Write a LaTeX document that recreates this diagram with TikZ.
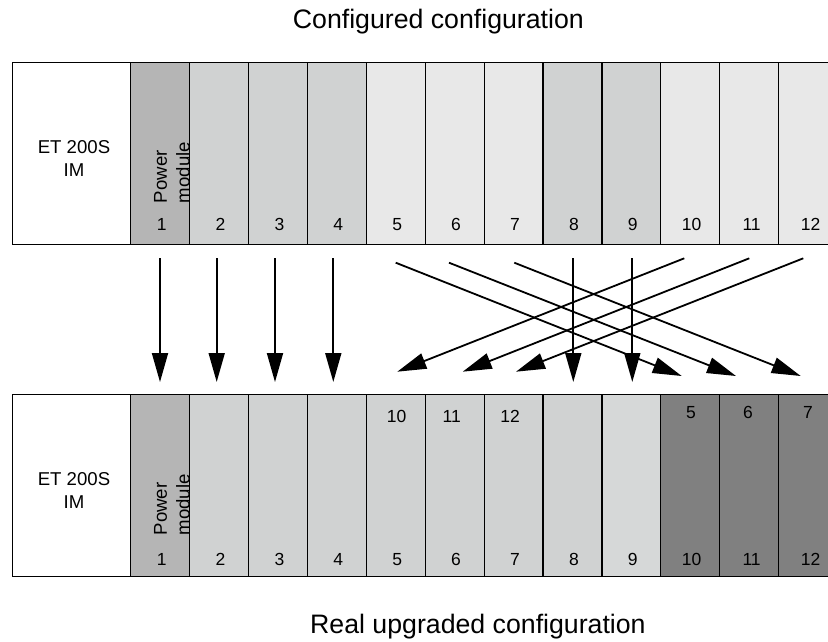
\documentclass[tikz,border=0pt]{standalone}
\usepackage{fontspec}
\setmainfont{Liberation Sans}
\usetikzlibrary{arrows.meta}

\definecolor{pmgray}{HTML}{B5B5B5}
\definecolor{midgray}{HTML}{D0D2D2}
\definecolor{lightgray}{HTML}{E8E8E8}
\definecolor{palegray}{HTML}{D6D8D8}
\definecolor{darkgray}{HTML}{808080}

\begin{document}
\begin{tikzpicture} [x = 1pt, y = -1pt,
  slot/.style = {draw, line width = 1.2pt, minimum width = 58.9pt, minimum height = 182pt, inner sep = 0pt},
  imbox/.style = {slot, fill = white, minimum width = 118pt},
  num/.style = {anchor = base, inner sep = 0pt, font = \fontsize{17.5}{20}\selectfont},
  racktext/.style = {inner sep = 0pt, font = \fontsize{18.6}{22.7}\selectfont},
  title/.style = {anchor = base west, inner sep = 0pt, font = \fontsize{26.7}{32}\selectfont},
  arr/.style = {line width = 1.8pt, -{Triangle[length = 29pt, width = 16pt]}}]
\useasboundingbox (0, 0) rectangle (828, 642);
\clip (0, 0) rectangle (828, 642);
% titles
\node[title] (ttop) at (292.7, 29.0){Configured configuration};
\node[title] (tbot) at (310.0, 633.3){Real upgraded configuration};
% configured rack
\node[imbox] (tim) at (71.7, 153.3){};
\node[slot, fill = pmgray] (t1) at (160.15, 153.3){};
\node[slot, fill = midgray] (t2) at (219.05, 153.3){};
\node[slot, fill = midgray] (t3) at (277.95, 153.3){};
\node[slot, fill = midgray] (t4) at (336.85, 153.3){};
\node[slot, fill = lightgray] (t5) at (395.75, 153.3){};
\node[slot, fill = lightgray] (t6) at (454.65, 153.3){};
\node[slot, fill = lightgray] (t7) at (513.55, 153.3){};
\node[slot, fill = midgray] (t8) at (572.45, 153.3){};
\node[slot, fill = midgray] (t9) at (631.35, 153.3){};
\node[slot, fill = lightgray] (t10) at (690.25, 153.3){};
\node[slot, fill = lightgray] (t11) at (749.15, 153.3){};
\node[slot, fill = lightgray] (t12) at (808.05, 153.3){};
\node[racktext, align = center] (tname) at (74.0, 158.4){ET 200S\\IM};
\node[racktext, align = left, rotate = 90, anchor = south west] (tpm) at (190.0, 203.3){Power\\module};
\node[num] (tn1) at (161.7, 230.0){1};
\node[num] (tn2) at (220.5, 230.0){2};
\node[num] (tn3) at (279.4, 230.0){3};
\node[num] (tn4) at (338.3, 230.0){4};
\node[num] (tn5) at (397.2, 230.0){5};
\node[num] (tn6) at (456.1, 230.0){6};
\node[num] (tn7) at (515.0, 230.0){7};
\node[num] (tn8) at (573.9, 230.0){8};
\node[num] (tn9) at (632.8, 230.0){9};
\node[num] (tn10) at (691.7, 230.0){10};
\node[num] (tn11) at (751.6, 230.0){11};
\node[num] (tn12) at (810.5, 230.0){12};
% real rack
\node[imbox] (bim) at (71.7, 485.4){};
\node[slot, fill = pmgray] (b1) at (160.15, 485.4){};
\node[slot, fill = midgray] (b2) at (219.05, 485.4){};
\node[slot, fill = midgray] (b3) at (277.95, 485.4){};
\node[slot, fill = midgray] (b4) at (336.85, 485.4){};
\node[slot, fill = midgray] (b5) at (395.75, 485.4){};
\node[slot, fill = midgray] (b6) at (454.65, 485.4){};
\node[slot, fill = midgray] (b7) at (513.55, 485.4){};
\node[slot, fill = midgray] (b8) at (572.45, 485.4){};
\node[slot, fill = palegray] (b9) at (631.35, 485.4){};
\node[slot, fill = darkgray] (b10) at (690.25, 485.4){};
\node[slot, fill = darkgray] (b11) at (749.15, 485.4){};
\node[slot, fill = darkgray] (b12) at (808.05, 485.4){};
\node[racktext, align = center] (bname) at (74.0, 490.5){ET 200S\\IM};
\node[racktext, align = left, rotate = 90, anchor = south west] (bpm) at (190.0, 535.4){Power\\module};
\node[num] (bn1) at (161.7, 565.7){1};
\node[num] (bn2) at (220.5, 565.7){2};
\node[num] (bn3) at (279.4, 565.7){3};
\node[num] (bn4) at (338.3, 565.7){4};
\node[num] (bn5) at (397.2, 565.7){5};
\node[num] (bn6) at (456.1, 565.7){6};
\node[num] (bn7) at (515.0, 565.7){7};
\node[num] (bn8) at (573.9, 565.7){8};
\node[num] (bn9) at (632.8, 565.7){9};
\node[num] (bn10) at (691.7, 565.7){10};
\node[num] (bn11) at (751.6, 565.7){11};
\node[num] (bn12) at (810.5, 565.7){12};
\node[num] (bu5) at (396.7, 422.7){10};
\node[num] (bu6) at (451.7, 422.7){11};
\node[num] (bu7) at (510.0, 422.7){12};
\node[num] (bu10) at (691.0, 418.3){5};
\node[num] (bu11) at (748.0, 418.3){6};
\node[num] (bu12) at (808.0, 418.3){7};
% arrow ends
\coordinate (src1) at (160.0, 258.0);
\coordinate (src2) at (216.7, 258.0);
\coordinate (src3) at (275.0, 258.0);
\coordinate (src4) at (333.3, 258.0);
\coordinate (src8) at (573.3, 258.0);
\coordinate (src9) at (632.3, 258.0);
\coordinate (dst1) at (160.0, 382.0);
\coordinate (dst2) at (216.7, 382.0);
\coordinate (dst3) at (275.0, 382.0);
\coordinate (dst4) at (333.3, 382.0);
\coordinate (dst8) at (573.3, 382.0);
\coordinate (dst9) at (632.3, 382.0);
\coordinate (src5) at (395.7, 262.7);
\coordinate (src6) at (449.0, 262.7);
\coordinate (src7) at (514.3, 262.7);
\coordinate (dst10) at (681.7, 376.0);
\coordinate (dst11) at (736.0, 376.0);
\coordinate (dst12) at (800.7, 376.0);
\coordinate (src10) at (684.3, 258.3);
\coordinate (src11) at (749.3, 258.3);
\coordinate (src12) at (803.3, 258.3);
\coordinate (dst5) at (397.3, 371.7);
\coordinate (dst6) at (462.7, 371.7);
\coordinate (dst7) at (516.0, 371.7);
% arrows
\draw[arr] (src1) -- (dst1);
\draw[arr] (src2) -- (dst2);
\draw[arr] (src3) -- (dst3);
\draw[arr] (src4) -- (dst4);
\draw[arr] (src5) -- (dst10);
\draw[arr] (src6) -- (dst11);
\draw[arr] (src7) -- (dst12);
\draw[arr] (src10) -- (dst5);
\draw[arr] (src11) -- (dst6);
\draw[arr] (src12) -- (dst7);
\draw[arr] (src8) -- (dst8);
\draw[arr] (src9) -- (dst9);
\end{tikzpicture}
\end{document}
